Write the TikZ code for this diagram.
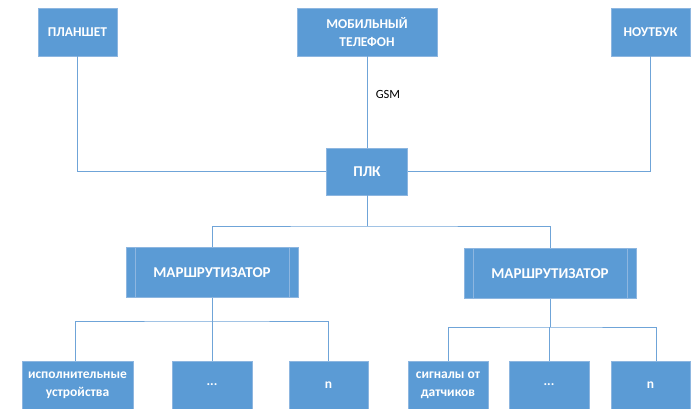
\documentclass[tikz,border=0pt]{standalone}
\usepackage{fontspec}
\setmainfont{Carlito}
\usetikzlibrary{positioning}

\definecolor{boxblue}{HTML}{5B9BD5}
\definecolor{lineblue}{HTML}{6FA4D8}
\definecolor{edgeblue}{HTML}{8DB6E0}

\tikzset{
    unit/.style={draw=edgeblue, line width=0.6pt, fill=boxblue, text=white,
        font=\bfseries\fontsize{13.5}{18.5}\selectfont, align=center,
        inner sep=2pt, minimum height=48pt},
    router/.style={unit, font=\bfseries\fontsize{15}{18}\selectfont,
        minimum width=172pt, minimum height=50pt,
        path picture={
            \draw[edgeblue, line width=0.6pt]
                ([xshift=9pt]path picture bounding box.north west) --
                ([xshift=9pt]path picture bounding box.south west);
            \draw[edgeblue, line width=0.6pt]
                ([xshift=-9pt]path picture bounding box.north east) --
                ([xshift=-9pt]path picture bounding box.south east);
        }},
    link/.style={draw=lineblue, line width=0.9pt}
}

\begin{document}
\begin{tikzpicture}[x=1pt, y=-1pt]
        \useasboundingbox[fill=white] (0,0) rectangle (691,409);

        % top row
        \node[unit, minimum width=79pt] (tab) at (77.5,32) {ПЛАНШЕТ};
        \node[unit, minimum width=140pt] (mob) at (367,32) {МОБИЛЬНЫЙ\\ТЕЛЕФОН};
        \node[unit, minimum width=79pt] (lap) at (650.5,32) {НОУТБУК};

        \node[unit, minimum width=81pt, minimum height=47pt,
            font=\bfseries\fontsize{15}{18}\selectfont] (plk) at (367,171.5) {ПЛК};

        % routers
        \node[router] (rtA) at (212,272.5) {МАРШРУТИЗАТОР};
        \node[router] (rtB) at (550,273.5) {МАРШРУТИЗАТОР};

        % bottom row
        \node[unit, minimum width=111pt] (act) at (77.5,385) {исполнительные\\устройства};
        \node[unit, minimum width=80pt] (dotsA) at (212,385) {...};
        \node[unit, minimum width=79pt] (lastA) at (328.5,385) {n};

        \node[unit, minimum width=80pt] (sig) at (448,385) {сигналы от\\датчиков};
        \node[unit, minimum width=80pt] (dotsB) at (549,385) {...};
        \node[unit, minimum width=79pt] (lastB) at (650.5,385) {n};

        \coordinate (busTop) at (367,226);
        \coordinate (busA) at (212,321);
        \coordinate (busB) at (550,327);

        \draw[link] (mob) -- node[right=5pt, pos=0.42, text=black,
            font=\fontsize{12.5}{14}\selectfont] (gsm) {GSM} (plk);
        \draw[link] (tab) |- (plk);
        \draw[link] (lap) |- (plk);

        \draw[link] (plk) -- (busTop);
        \draw[link] (rtA) |- (busTop) -| (rtB);

        \draw[link] (rtA) -- (busA);
        \draw[link] ([xshift=-2pt]act.north) |- (busA) -| (lastA);
        \draw[link] (dotsA) -- (busA);

        \draw[link] (rtB) -- (busB);
        \draw[link] (sig) |- (busB) -| ([xshift=6pt]lastB.north);
        \draw[link] (dotsB) -- (dotsB |- busB);
    \end{tikzpicture}
\end{document}
